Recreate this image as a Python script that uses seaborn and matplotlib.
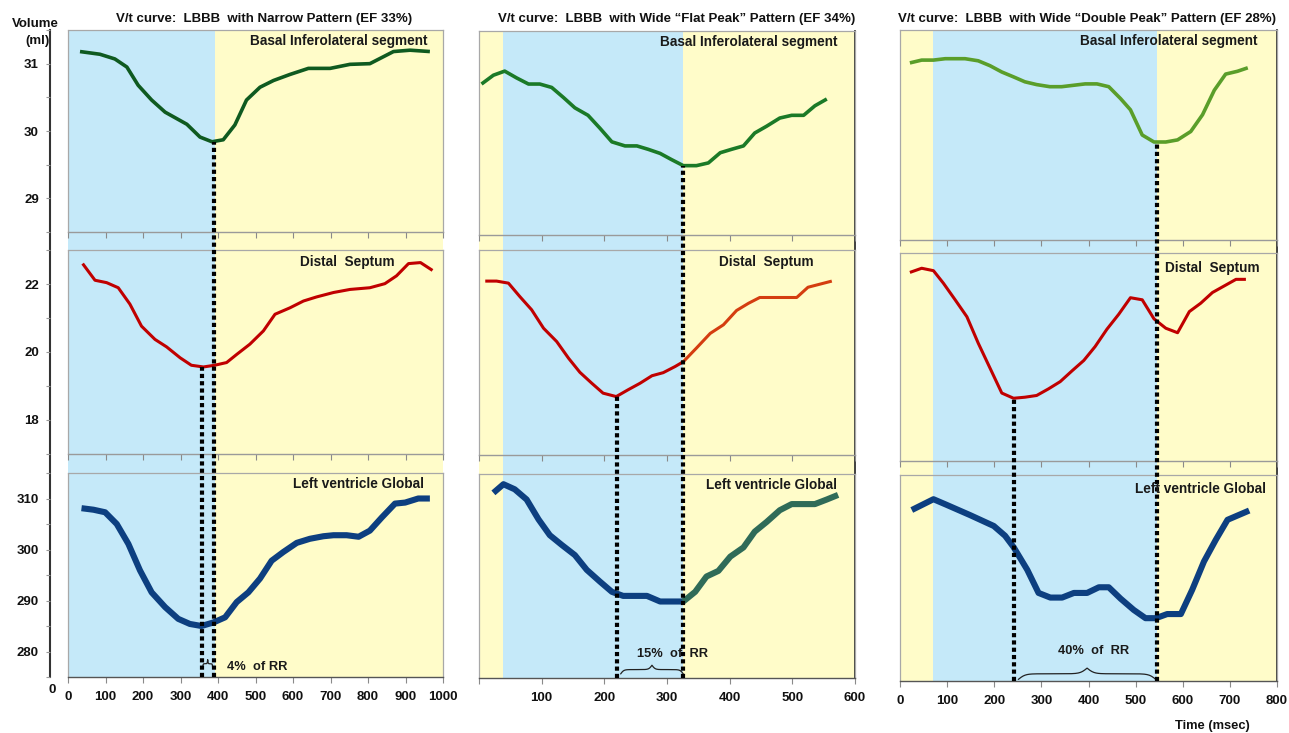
import numpy as np
import pandas as pd
import seaborn as sns
import matplotlib.pyplot as plt
from matplotlib.ticker import MultipleLocator

sns.set_theme(style="white")
plt.rcParams['font.family'] = ['Liberation Sans', 'DejaVu Sans']
plt.rcParams['font.weight'] = 'bold'
plt.rcParams['axes.labelweight'] = 'bold'

# ---------------------------------------------------------------- data (ms, ml)
narrow_basal_t = [32, 85, 125, 157, 187, 223, 259, 317, 352, 384, 414, 445, 476, 512, 548,
                  592, 641, 699, 752, 805, 868, 912, 965]
narrow_basal_v = [31.18, 31.14, 31.07, 30.95, 30.68, 30.46, 30.28, 30.10, 29.91, 29.84, 29.87,
                  30.09, 30.46, 30.65, 30.75, 30.84, 30.93, 30.93, 30.99, 31.00, 31.18, 31.20, 31.18]
narrow_septum_t = [39, 72, 103, 134, 165, 196, 232, 263, 299, 329, 361, 391, 423, 450, 485, 521,
                   552, 592, 628, 663, 708, 752, 805, 845, 876, 908, 940, 972]
narrow_septum_v = [22.60, 22.11, 22.04, 21.89, 21.41, 20.76, 20.37, 20.15, 19.83, 19.61, 19.56,
                   19.61, 19.69, 19.93, 20.23, 20.62, 21.11, 21.30, 21.50, 21.62, 21.75, 21.84,
                   21.89, 22.01, 22.24, 22.60, 22.63, 22.40]
narrow_global_t = [36, 68, 99, 130, 161, 192, 223, 259, 294, 325, 356, 388, 419, 450, 481, 512,
                   543, 574, 610, 645, 681, 708, 743, 775, 805, 837, 872, 899, 934, 965]
narrow_global_v = [308.1, 307.8, 307.3, 305.0, 301.1, 295.9, 291.6, 288.7, 286.4, 285.4, 285.0,
                   285.7, 286.7, 289.7, 291.6, 294.3, 297.8, 299.5, 301.3, 302.1, 302.6, 302.8,
                   302.8, 302.5, 303.7, 306.3, 309.0, 309.2, 310.0, 310.0]

flat_basal_t = [4, 23, 41, 60, 79, 97, 116, 135, 153, 174, 193, 212, 233, 252, 270, 289, 307,
                326, 347, 366, 385, 403, 422, 440, 459, 480, 499, 518, 536, 555]
flat_basal_v = [30.72, 30.85, 30.91, 30.81, 30.72, 30.72, 30.67, 30.52, 30.37, 30.26, 30.07,
                29.87, 29.81, 29.81, 29.76, 29.70, 29.61, 29.52, 29.52, 29.56, 29.71, 29.76,
                29.81, 30.00, 30.10, 30.22, 30.26, 30.26, 30.40, 30.50]
flat_septum_t = [10, 28, 47, 65, 84, 103, 124, 143, 161, 180, 198, 219, 238, 257, 276, 294, 313,
                 326, 347, 369, 390, 411, 430, 448, 470, 488, 507, 525, 544, 563]
flat_septum_v = [22.09, 22.09, 22.03, 21.64, 21.25, 20.71, 20.32, 19.83, 19.42, 19.10, 18.81,
                 18.71, 18.91, 19.10, 19.32, 19.41, 19.59, 19.73, 20.13, 20.56, 20.81, 21.23,
                 21.44, 21.61, 21.61, 21.61, 21.61, 21.91, 22.00, 22.09]
flat_global_t = [23, 39, 57, 76, 95, 113, 132, 153, 172, 193, 212, 230, 249, 268, 289, 307, 326,
                 345, 363, 382, 401, 422, 440, 459, 480, 499, 518, 536, 555, 573]
flat_global_v = [311.3, 313.0, 312.0, 310.0, 306.1, 303.0, 301.1, 299.1, 296.2, 293.9, 291.9,
                 291.1, 291.1, 291.1, 290.0, 290.0, 290.0, 291.9, 294.9, 296.0, 298.8, 300.6,
                 303.7, 305.6, 307.9, 309.1, 309.1, 309.1, 310.0, 310.9]

double_basal_t = [21, 46, 71, 96, 138, 166, 191, 216, 241, 265, 290, 318, 343, 368, 393, 418,
                  443, 468, 489, 514, 539, 564, 589, 617, 642, 667, 691, 716, 738]
double_basal_v = [31.03, 31.07, 31.07, 31.09, 31.09, 31.06, 30.99, 30.90, 30.83, 30.76, 30.72,
                  30.69, 30.69, 30.71, 30.73, 30.73, 30.69, 30.52, 30.36, 30.00, 29.90, 29.90,
                  29.93, 30.05, 30.29, 30.64, 30.87, 30.91, 30.96]
double_septum_t = [21, 46, 71, 92, 117, 142, 166, 191, 216, 241, 265, 290, 315, 340, 365, 390,
                   414, 439, 464, 489, 514, 539, 564, 589, 614, 638, 663, 688, 713, 734]
double_septum_v = [22.44, 22.56, 22.49, 22.13, 21.65, 21.16, 20.40, 19.68, 18.96, 18.81, 18.84,
                   18.89, 19.08, 19.29, 19.60, 19.90, 20.30, 20.80, 21.23, 21.71, 21.65, 21.10,
                   20.83, 20.70, 21.31, 21.55, 21.86, 22.05, 22.24, 22.24]
double_global_t = [25, 71, 99, 149, 199, 223, 241, 270, 294, 319, 344, 369, 397, 422, 443, 468,
                   496, 521, 543, 567, 596, 620, 645, 670, 695, 741]
double_global_v = [308.2, 310.3, 309.2, 307.2, 305.1, 303.2, 301.0, 296.6, 292.1, 291.2, 291.2,
                   292.1, 292.1, 293.2, 293.2, 291.0, 288.8, 287.2, 287.2, 288.0, 288.0, 292.7,
                   298.2, 302.4, 306.3, 308.1]

titles = ["V/t curve:  LBBB  with Narrow Pattern (EF 33%)",
          "V/t curve:  LBBB  with Wide \u201cFlat Peak\u201d Pattern (EF 34%)",
          "V/t curve:  LBBB  with Wide \u201cDouble Peak\u201d Pattern (EF 28%)"]
segment_names = ["Basal Inferolateral segment", "Distal  Septum", "Left ventricle Global"]
rr_labels = ["4%  of RR", "15%  of  RR", "40%  of  RR"]
x_max = [1000, 600, 800]
# systolic (blue) window per pattern, ms
systole = [(0, 392), (38, 326), (70, 545)]
# time of minimum volume: basal segment, septum
t_min = [(388, 357), (326, 221), (545, 241)]

basal_ticks = [29, 30, 31]
septum_ticks = [18, 20, 22]
global_ticks = [280, 290, 300, 310]
ylims = [(28.5, 31.5), (17, 23), (275, 315)]

series = [
    [(narrow_basal_t, narrow_basal_v), (narrow_septum_t, narrow_septum_v), (narrow_global_t, narrow_global_v)],
    [(flat_basal_t, flat_basal_v), (flat_septum_t, flat_septum_v), (flat_global_t, flat_global_v)],
    [(double_basal_t, double_basal_v), (double_septum_t, double_septum_v), (double_global_t, double_global_v)],
]

# ---------------------------------------------------------------- styling
BLUE_BG = "#c5e9f9"
YELLOW_BG = "#fffcc9"
GREENS = ["#0f5a20", "#1b7a27", "#5a9e2a"]
RED = "#c00000"
RED2 = "#d43d10"
NAVY = "#0d3f80"
TEAL = "#2f6b58"
BORDER = "#a8a8a8"
line_w = [2.6, 2.2, 4.4]

W, H = 1289, 733
fig = plt.figure(figsize=(W / 100, H / 100), dpi=100)


def rect(x0, x1, ytop, ybot):
    return [x0 / W, 1 - ybot / H, (x1 - x0) / W, (ybot - ytop) / H]


layout = [
    dict(x0=68, x1=443, rows=[(30, 232), (250, 454), (473, 677)]),
    dict(x0=479, x1=855, rows=[(31, 235), (250, 455), (474, 678)]),
    dict(x0=900, x1=1277, rows=[(30, 240), (253, 461), (475, 681)]),
]
label_offsets = [(15, 48, 19), (17, 41, 18), (20, 17, 11)]
title_shift = [9, 10, -2]


def brace(ax, x0, x1, y0, h, color="#222"):
    n = 201
    t = np.linspace(0, 1, n)
    half = t[: n // 2 + 1]
    beta = 40.0
    yh = 1 / (1 + np.exp(-beta * (half - half[0]))) + 1 / (1 + np.exp(-beta * (half - half[-1])))
    y = np.concatenate([yh, yh[-2::-1]])
    y = (y - y.min()) / (y.max() - y.min())
    ax.plot(x0 + (x1 - x0) * t, y0 + h * y, color=color, lw=0.9, clip_on=False, zorder=6)


def draw_curve(ax, df, color, lw):
    sns.lineplot(data=df, x="t", y="v", ax=ax, color=color, lw=lw, sort=False, estimator=None)


for c, lay in enumerate(layout):
    xm = x_max[c]
    top, bot = lay["rows"][0][0], lay["rows"][2][1]

    # shaded cardiac phases behind all three panels
    bg = fig.add_axes(rect(lay["x0"], lay["x1"], top, bot), zorder=0)
    bg.set_xlim(0, xm)
    bg.set_ylim(0, 1)
    bg.set_facecolor(YELLOW_BG)
    bg.axvspan(*systole[c], color=BLUE_BG, lw=0)
    bg.set_xticks([])
    bg.set_yticks([])
    for s in bg.spines.values():
        s.set_visible(False)
    if c == 0:
        bg.spines["left"].set_visible(True)
        bg.spines["left"].set_position(("outward", 13))
        bg.spines["left"].set_color("#333333")
        bg.spines["left"].set_linewidth(1.5)
    else:
        bg.spines["right"].set_visible(True)
        bg.spines["right"].set_color("#333333")
        bg.spines["right"].set_linewidth(1.3)

    panels = []
    for r in range(3):
        ytop, ybot = lay["rows"][r]
        ax = fig.add_axes(rect(lay["x0"], lay["x1"], ytop, ybot), zorder=1)
        ax.set_facecolor("none")
        t, v = series[c][r]
        df = pd.DataFrame({"t": t, "v": v})
        if r == 0:
            draw_curve(ax, df, GREENS[c], line_w[r])
        elif c == 1:
            # colour changes once the basal segment has reached its minimum
            split = t_min[c][0]
            base = RED if r == 1 else NAVY
            late = RED2 if r == 1 else TEAL
            draw_curve(ax, df[df.t <= split], base, line_w[r])
            draw_curve(ax, df[df.t >= split], late, line_w[r])
        else:
            draw_curve(ax, df, RED if r == 1 else NAVY, line_w[r])
        for ln in ax.lines:
            ln.set_solid_capstyle("butt")
            ln.set_solid_joinstyle("round")
        ax.set_xlim(0, xm)
        ax.set_ylim(*ylims[r])
        ax.set_xlabel("")
        ax.set_ylabel("")
        for s in ("top", "right", "left"):
            ax.spines[s].set_color(BORDER)
            ax.spines[s].set_linewidth(0.9)
        ax.spines["bottom"].set_color("#555555" if r == 2 else "#9a9a9a")
        ax.spines["bottom"].set_linewidth(1.0)

        ax.set_xticks(np.arange(0, xm + 1, 100))
        ax.tick_params(axis="x", which="both", bottom=True, length=4, width=0.8,
                       color="#8a8a8a", labelsize=9.5, pad=6, labelbottom=(r == 2))
        if r == 2:
            labs = [str(v) for v in range(0, xm + 1, 100)]
            if c == 1:
                labs[0] = ""
            ax.set_xticklabels(labs, fontweight="bold", color="#111111")

        if c == 0:
            ax.spines["left"].set_position(("outward", 13))
            ax.spines["left"].set_color("none")
            ax.axvline(0, color=BORDER, lw=0.9, clip_on=False)
            ax.set_yticks([basal_ticks, septum_ticks, global_ticks][r])
            ax.yaxis.set_minor_locator(MultipleLocator([0.5, 1, 5][r]))
            ax.tick_params(axis="y", which="both", left=True, length=3, width=0.8,
                           color="#999999", labelsize=9.5, pad=5)
            plt.setp(ax.get_yticklabels(), fontweight="bold", color="#111111")
        else:
            ax.set_yticks([])
        panels.append(ax)

        # segment name in the top right of each panel
        off = label_offsets[c][r]
        yl = ytop + [11, 12, 11][r] + (3 if (c == 2 and r > 0) else 0)
        fig.text((lay["x1"] - off) / W, 1 - yl / H, segment_names[r], ha="right",
                 va="center", fontsize=9.8, fontweight="bold", color="#1a1a1a", zorder=5)

    # overlay for the dotted timing markers
    ov = fig.add_axes(rect(lay["x0"], lay["x1"], top, bot), zorder=3)
    ov.set_xlim(0, xm)
    ov.set_ylim(0, 1)
    ov.axis("off")
    fig.canvas.draw()
    for r, tm in enumerate(t_min[c]):
        t, v = series[c][r]
        vm = float(np.interp(tm, t, v))
        disp = panels[r].transData.transform((tm, vm))
        frac = ov.transAxes.inverted().transform(disp)[1]
        ov.axvline(tm, 0, frac, color="black", lw=3.0, linestyle=(0, (1, 0.75)),
                   dash_capstyle="butt")

    # RR interval bracket and label in the global panel
    gax = panels[2]
    t_a, t_b = sorted(t_min[c])
    if c == 0:
        brace(gax, t_a + 2, t_b - 2, 276.8, 1.6)
        gax.text(t_b + 36, 277.0, rr_labels[c], ha="left", va="center", fontsize=9.3,
                 fontweight="bold", color="#1a1a1a", zorder=6)
    elif c == 1:
        brace(gax, t_a + 5, t_b, 275.8, 1.7)
        gax.text(309, 279.7, rr_labels[c], ha="center", va="center", fontsize=9.3,
                 fontweight="bold", color="#1a1a1a", zorder=6)
    else:
        brace(gax, t_a + 10, t_b - 2, 275.3, 2.2)
        gax.text(411, 280.8, rr_labels[c], ha="center", va="center", fontsize=9.3,
                 fontweight="bold", color="#1a1a1a", zorder=6)

    # column title
    fig.text(((lay["x0"] + lay["x1"]) / 2 + title_shift[c]) / W, 1 - 19 / H, titles[c],
             ha="center", va="center", fontsize=9.5, fontweight="bold", color="#111111")

fig.text(35 / W, 1 - 24 / H, "Volume", ha="center", va="center", fontsize=9.5,
         fontweight="bold", color="#111111")
fig.text(38 / W, 1 - 41 / H, "(ml)", ha="center", va="center", fontsize=9.5,
         fontweight="bold", color="#111111")
fig.text(52 / W, 1 - 690 / H, "0", ha="center", va="center", fontsize=9.5,
         fontweight="bold", color="#111111")
fig.text(1212 / W, 1 - 726 / H, "Time (msec)", ha="center", va="center", fontsize=9.3,
         fontweight="bold", color="#111111")

fig.savefig("out.png", dpi=100, facecolor="white")
